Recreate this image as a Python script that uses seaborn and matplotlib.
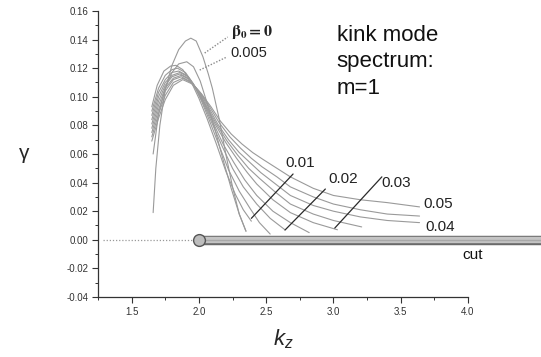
import numpy as np
import pandas as pd
import seaborn as sns
import matplotlib
matplotlib.use('Agg')
import matplotlib.pyplot as plt
from matplotlib.ticker import MultipleLocator, FormatStrFormatter

# growth rate curves gamma(k_z), one per beta_0
k_b000 = [1.66, 1.68, 1.71, 1.75, 1.80, 1.85, 1.90, 1.94, 1.98, 2.03, 2.07, 2.10, 2.15, 2.20, 2.25, 2.30, 2.35]
g_b000 = [0.019, 0.050, 0.080, 0.105, 0.122, 0.133, 0.139, 0.141, 0.139, 0.128, 0.116, 0.106, 0.085, 0.060, 0.037, 0.018, 0.006]

k_b005 = [1.66, 1.70, 1.75, 1.80, 1.85, 1.91, 1.96, 2.01, 2.06, 2.12, 2.18, 2.24, 2.30, 2.35]
g_b005 = [0.060, 0.088, 0.106, 0.117, 0.123, 0.1245, 0.121, 0.111, 0.096, 0.077, 0.056, 0.036, 0.018, 0.006]

k_b010 = [1.65, 1.69, 1.74, 1.79, 1.83, 1.88, 1.94, 2.00, 2.06, 2.13, 2.20, 2.27, 2.33, 2.39]
g_b010 = [0.093, 0.108, 0.118, 0.1215, 0.122, 0.119, 0.111, 0.099, 0.085, 0.067, 0.048, 0.032, 0.021, 0.013]

k_b015 = [1.65, 1.70, 1.75, 1.80, 1.84, 1.90, 1.96, 2.02, 2.08, 2.15, 2.22, 2.30, 2.38, 2.45, 2.53]
g_b015 = [0.090, 0.106, 0.115, 0.119, 0.120, 0.117, 0.109, 0.097, 0.083, 0.066, 0.049, 0.034, 0.022, 0.012, 0.004]

k_b020 = [1.65, 1.70, 1.75, 1.80, 1.85, 1.91, 1.97, 2.03, 2.10, 2.17, 2.25, 2.33, 2.43, 2.53, 2.64]
g_b020 = [0.087, 0.103, 0.112, 0.117, 0.118, 0.115, 0.107, 0.096, 0.081, 0.066, 0.050, 0.037, 0.025, 0.015, 0.007]

k_b025 = [1.65, 1.70, 1.75, 1.80, 1.86, 1.92, 1.98, 2.04, 2.11, 2.18, 2.26, 2.34, 2.43, 2.55, 2.68, 2.82]
g_b025 = [0.084, 0.100, 0.110, 0.115, 0.117, 0.114, 0.106, 0.095, 0.081, 0.067, 0.054, 0.042, 0.031, 0.020, 0.012, 0.005]

k_b030 = [1.65, 1.70, 1.75, 1.80, 1.86, 1.92, 1.98, 2.05, 2.12, 2.20, 2.28, 2.36, 2.43, 2.55, 2.68, 2.85, 3.03]
g_b030 = [0.081, 0.097, 0.108, 0.114, 0.116, 0.113, 0.106, 0.094, 0.081, 0.068, 0.057, 0.047, 0.039, 0.028, 0.019, 0.012, 0.007]

k_b035 = [1.65, 1.70, 1.75, 1.81, 1.87, 1.93, 1.99, 2.06, 2.13, 2.21, 2.29, 2.37, 2.45, 2.56, 2.68, 2.85, 3.00, 3.21]
g_b035 = [0.078, 0.094, 0.106, 0.113, 0.115, 0.112, 0.105, 0.093, 0.081, 0.069, 0.059, 0.050, 0.043, 0.034, 0.025, 0.018, 0.0135, 0.009]

k_b040 = [1.65, 1.70, 1.75, 1.81, 1.87, 1.93, 2.00, 2.07, 2.14, 2.22, 2.30, 2.38, 2.46, 2.57, 2.68, 2.85, 3.00, 3.20, 3.40, 3.64]
g_b040 = [0.075, 0.091, 0.104, 0.112, 0.114, 0.111, 0.104, 0.093, 0.081, 0.070, 0.061, 0.054, 0.047, 0.039, 0.031, 0.024, 0.020, 0.016, 0.0135, 0.012]

k_b045 = [1.65, 1.70, 1.75, 1.81, 1.88, 1.94, 2.01, 2.08, 2.15, 2.23, 2.31, 2.39, 2.47, 2.58, 2.68, 2.85, 3.00, 3.20, 3.40, 3.64]
g_b045 = [0.072, 0.088, 0.101, 0.110, 0.113, 0.110, 0.103, 0.093, 0.082, 0.072, 0.064, 0.057, 0.051, 0.044, 0.037, 0.030, 0.025, 0.021, 0.018, 0.0166]

k_b050 = [1.65, 1.70, 1.75, 1.81, 1.88, 1.95, 2.02, 2.09, 2.16, 2.24, 2.32, 2.40, 2.48, 2.58, 2.68, 2.85, 3.00, 3.20, 3.40, 3.64]
g_b050 = [0.069, 0.085, 0.098, 0.108, 0.112, 0.109, 0.102, 0.093, 0.083, 0.074, 0.067, 0.061, 0.056, 0.050, 0.044, 0.036, 0.031, 0.028, 0.026, 0.023]

betas = ['0', '0.005', '0.01', '0.015', '0.02', '0.025', '0.03', '0.035', '0.04', '0.045', '0.05']
curves = [(k_b000, g_b000), (k_b005, g_b005), (k_b010, g_b010), (k_b015, g_b015),
          (k_b020, g_b020), (k_b025, g_b025), (k_b030, g_b030), (k_b035, g_b035),
          (k_b040, g_b040), (k_b045, g_b045), (k_b050, g_b050)]

# leader lines for the beta labels: (x0, y0, x1, y1)
lead_001 = [2.39, 0.015, 2.70, 0.046]
lead_002 = [2.64, 0.0068, 2.94, 0.0355]
lead_003 = [3.01, 0.0082, 3.36, 0.044]
dot_b000 = [2.043, 0.1306, 2.214, 0.1418]
dot_b005 = [2.006, 0.1187, 2.207, 0.1278]

cut_start = 2.0
cut_end = 4.8

sns.set_style('ticks')
plt.rcParams['font.family'] = ['Liberation Sans', 'DejaVu Sans']
plt.rcParams['axes.unicode_minus'] = False
plt.rcParams['mathtext.fontset'] = 'custom'
plt.rcParams['mathtext.it'] = 'Liberation Sans:italic'
plt.rcParams['mathtext.rm'] = 'Liberation Sans'

rows = []
for b, (ks, gs) in zip(betas, curves):
    for k, g in zip(ks, gs):
        rows.append({'beta': b, 'k': k, 'gamma': g})
df = pd.DataFrame(rows)

fig = plt.figure(figsize=(5.41, 3.57), dpi=100)
ax = fig.add_axes([0.1811, 0.1681, 0.6839, 0.8011])

sns.lineplot(data=df, x='k', y='gamma', units='beta', estimator=None, sort=False,
             color='#9a9a9a', lw=0.8, ax=ax)

# zero line and the cut
ax.plot([1.29, cut_start], [0, 0], ls=(0, (1, 1.5)), color='#999999', lw=0.9)
ax.plot([cut_start, cut_end], [0, 0], color='#6a6a6a', lw=6.8, solid_capstyle='butt', clip_on=False, zorder=4)
ax.plot([cut_start, cut_end], [0, 0], color='#c4c4c4', lw=4.6, solid_capstyle='butt', clip_on=False, zorder=5)
ax.plot([cut_start, cut_end], [0, 0], color='#a8a8a8', lw=1.0, solid_capstyle='butt', clip_on=False, zorder=5)
ax.plot([cut_start], [0], marker='o', ms=8.5, mfc='#bdbdbd', mec='#555555', mew=1.0, zorder=6, clip_on=False)

for x0, y0, x1, y1 in [lead_001, lead_002, lead_003]:
    ax.plot([x0, x1], [y0, y1], color='#2a2a2a', lw=0.9)
for x0, y0, x1, y1 in [dot_b000, dot_b005]:
    ax.plot([x0, x1], [y0, y1], color='#8a8a8a', lw=1.0, ls=(0, (1, 1.2)))

ax.text(2.24, 0.1452, r'$\mathbf{\beta_0 = 0}$', math_fontfamily='stix', fontsize=11.5,
        ha='left', va='center', color='#222222')
ax.text(2.235, 0.1305, '0.005', fontsize=10.5, ha='left', va='center', color='#222222')
ax.text(2.645, 0.0535, '0.01', fontsize=11, ha='left', va='center', color='#222222')
ax.text(2.96, 0.0425, '0.02', fontsize=11, ha='left', va='center', color='#222222')
ax.text(3.36, 0.0400, '0.03', fontsize=11, ha='left', va='center', color='#222222')
ax.text(3.665, 0.0250, '0.05', fontsize=11, ha='left', va='center', color='#222222')
ax.text(3.68, 0.0086, '0.04', fontsize=11, ha='left', va='center', color='#222222')
ax.text(3.96, -0.0106, 'cut', fontsize=11, ha='left', va='center', color='#111111')
ax.text(3.025, 0.1505, 'kink mode\nspectrum:\nm=1', fontsize=16, ha='left', va='top',
        linespacing=1.35, color='#111111')

ax.set_xlim(1.25, 4.0)
ax.set_ylim(-0.04, 0.16)
ax.xaxis.set_major_locator(MultipleLocator(0.5))
ax.xaxis.set_minor_locator(MultipleLocator(0.25))
ax.yaxis.set_major_locator(MultipleLocator(0.02))
ax.yaxis.set_minor_locator(MultipleLocator(0.01))
ax.xaxis.set_major_formatter(FormatStrFormatter('%.1f'))
ax.yaxis.set_major_formatter(FormatStrFormatter('%.2f'))
ax.tick_params(which='major', direction='out', length=4, width=0.8, labelsize=7,
               colors='#333333', pad=3)
ax.tick_params(which='minor', direction='out', length=2.5, width=0.7, colors='#333333')
sns.despine(ax=ax)
for s in ['left', 'bottom']:
    ax.spines[s].set_color('#333333')
    ax.spines[s].set_linewidth(0.9)

ax.set_xlabel(r'$k_z$', fontsize=16, labelpad=8)
ax.set_ylabel('γ', fontsize=15, rotation=0, va='center')
ax.yaxis.set_label_coords(-0.2, 0.5)

fig.savefig('out.png', dpi=100)
